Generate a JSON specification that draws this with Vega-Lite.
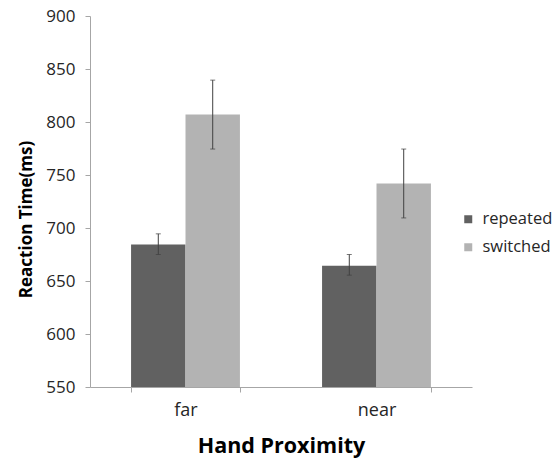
{
  "$schema": "https://vega.github.io/schema/vega-lite/v6.json",
  "autosize": {"type": "none"},
  "padding": {"left": 90, "top": 16, "right": 83, "bottom": 75},
  "width": 382,
  "height": 371,
  "config": {
    "font": "Open Sans",
    "view": {"stroke": null},
    "axis": {"grid": false, "domainColor": "#a6a6a6", "tickColor": "#a6a6a6", "labelColor": "#262626", "titleColor": "#000000"}
  },
  "data": {
    "values": [
      {"proximity": "far", "condition": "repeated", "rt": 684.5, "lo": 675, "hi": 694.5},
      {"proximity": "far", "condition": "switched", "rt": 807, "lo": 774.5, "hi": 839.5},
      {"proximity": "near", "condition": "repeated", "rt": 664.5, "lo": 655.5, "hi": 675},
      {"proximity": "near", "condition": "switched", "rt": 742, "lo": 709.5, "hi": 774.5}
    ]
  },
  "encoding": {
    "x": {
      "field": "proximity", "type": "nominal",
      "scale": {"paddingInner": 0.43, "paddingOuter": 0.215},
      "axis": {"title": "Hand Proximity", "labelAngle": 0, "labelFontSize": 18, "labelPadding": 9, "tickSize": 5, "tickBand": "extent", "titleFontSize": 21.5, "titleFontWeight": "bold", "titlePadding": 16}
    },
    "xOffset": {"field": "condition", "type": "nominal", "scale": {"paddingInner": 0, "paddingOuter": 0}}
  },
  "layer": [
    {
      "mark": {"type": "bar", "clip": true},
      "encoding": {
        "y": {
          "field": "rt", "type": "quantitative",
          "scale": {"domain": [550, 900], "nice": false, "zero": false},
          "axis": {"title": "Reaction Time(ms)", "values": [550, 600, 650, 700, 750, 800, 850, 900], "labelFontSize": 17, "labelPadding": 10, "tickSize": 5, "titleFontSize": 17, "titleFontWeight": "bold", "titlePadding": 10, "titleY": 203}
        },
        "y2": {"datum": 550},
        "color": {
          "field": "condition", "type": "nominal",
          "scale": {"domain": ["repeated", "switched"], "range": ["#616161", "#b3b3b3"]},
          "legend": {"title": null, "orient": "none", "legendX": 370, "legendY": 195, "symbolType": "square", "symbolSize": 64, "symbolStrokeWidth": 0, "labelFontSize": 16.5, "labelColor": "#262626", "rowPadding": 11, "labelOffset": 6}
        }
      }
    },
    {
      "mark": {"type": "rule", "color": "#404040", "strokeWidth": 1},
      "encoding": {
        "y": {"field": "lo", "type": "quantitative"},
        "y2": {"field": "hi"}
      }
    },
    {
      "mark": {"type": "tick", "color": "#404040", "thickness": 1, "size": 5, "orient": "horizontal"},
      "encoding": {"y": {"field": "lo", "type": "quantitative"}}
    },
    {
      "mark": {"type": "tick", "color": "#404040", "thickness": 1, "size": 5, "orient": "horizontal"},
      "encoding": {"y": {"field": "hi", "type": "quantitative"}}
    }
  ]
}
